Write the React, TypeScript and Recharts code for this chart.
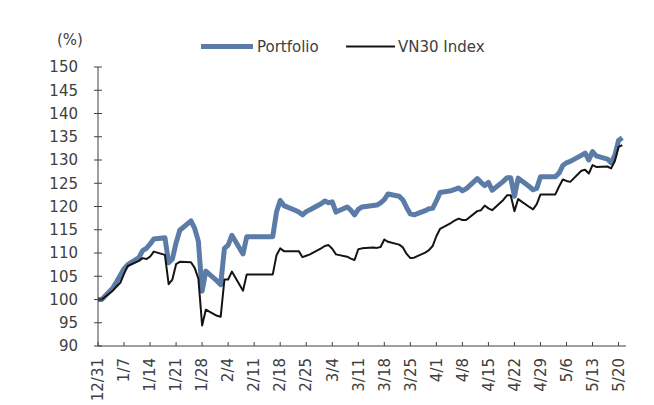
import { Line, LineChart, XAxis, YAxis } from "recharts";

// days counted from 12/31 (weekdays only, holidays carry the previous close)
const tradingDays = [
  0, 1, 4, 5, 6, 7, 8, 11, 12, 13, 14, 15, 18, 19, 20, 21, 22, 25, 26, 27, 28, 29,
  32, 33, 34, 35, 36, 39, 40, 41, 42, 43, 46, 47, 48, 49, 50, 53, 54, 55, 56, 57,
  60, 61, 62, 63, 64, 67, 68, 69, 70, 71, 74, 75, 76, 77, 78, 81, 82, 83, 84, 85,
  88, 89, 90, 91, 92, 95, 96, 97, 98, 99, 102, 103, 104, 105, 106, 109, 110, 111, 112, 113,
  116, 117, 118, 119, 120, 123, 124, 125, 126, 127, 130, 131, 132, 133, 134, 137, 138, 139, 140, 141,
];

const portfolio = [
  100.0, 100.0, 102.5, 103.8, 105.2, 106.6, 107.5, 109.0, 110.5, 111.0, 111.9, 113.0, 113.3, 107.9, 108.7, 112.2, 114.9, 116.9, 115.3, 112.5, 101.8, 106.1,
  104.0, 103.2, 111.0, 111.7, 113.8, 109.8, 113.5, 113.5, 113.5, 113.5, 113.5, 113.5, 118.8, 121.3, 120.2, 119.2, 118.8, 118.2, 118.9, 119.3,
  120.6, 121.2, 120.8, 121.0, 118.8, 119.9, 119.2, 118.2, 119.4, 119.9, 120.2, 120.3, 120.8, 121.5, 122.7, 122.2, 121.4, 119.8, 118.4, 118.2,
  119.1, 119.5, 119.6, 121.2, 123.0, 123.4, 123.7, 124.0, 123.4, 123.8, 126.0, 125.2, 124.5, 125.2, 123.5, 125.4, 126.2, 126.2, 122.2, 126.1,
  124.3, 123.6, 123.9, 126.4, 126.4, 126.4, 127.2, 128.8, 129.4, 129.7, 131.0, 131.5, 130.0, 131.8, 130.9, 130.2, 129.4, 131.0, 134.2, 134.8,
];

const vn30 = [
  100.0, 100.0, 101.9, 102.8, 103.6, 105.5, 107.2, 108.3, 108.9, 108.7, 109.2, 110.3, 109.6, 103.3, 104.3, 107.6, 108.1, 108.0, 106.8, 104.5, 94.4, 97.8,
  96.5, 96.3, 104.3, 104.3, 106.0, 101.9, 105.4, 105.4, 105.4, 105.4, 105.4, 105.4, 109.5, 111.0, 110.4, 110.4, 110.4, 109.1, 109.4, 109.7,
  111.0, 111.5, 111.7, 110.9, 109.7, 109.2, 108.8, 108.5, 110.8, 111.0, 111.2, 111.1, 111.3, 112.9, 112.4, 111.8, 111.2, 109.8, 108.9, 109.0,
  110.1, 110.6, 111.5, 113.6, 115.2, 116.5, 117.0, 117.4, 117.1, 117.1, 119.0, 119.2, 120.2, 119.6, 119.2, 121.4, 122.4, 122.4, 119.0, 121.6,
  119.9, 119.4, 120.5, 122.6, 122.6, 122.6, 124.3, 125.8, 125.5, 125.3, 127.7, 127.9, 127.1, 128.9, 128.5, 128.6, 128.2, 129.8, 132.8, 133.2,
];

const tickDays = [0, 7, 14, 21, 28, 35, 42, 49, 56, 63, 70, 77, 84, 91, 98, 105, 112, 119, 126, 133, 140];
const tickLabels = [
  "12/31", "1/7", "1/14", "1/21", "1/28", "2/4", "2/11", "2/18", "2/25", "3/4", "3/11",
  "3/18", "3/25", "4/1", "4/8", "4/15", "4/22", "4/29", "5/6", "5/13", "5/20",
];
const yTicks = [90, 95, 100, 105, 110, 115, 120, 125, 130, 135, 140, 145, 150];

const BLUE = "#5b7ca6";
const BLACK = "#141414";
const AXIS = "#404040";
const TEXT = "#404040";
const FONT = "'DejaVu Sans', Verdana, sans-serif";

const data = tradingDays.map((day, i) => ({ day, portfolio: portfolio[i], vn30: vn30[i] }));

function XTick({ x, y, payload }: any) {
  const label = tickLabels[tickDays.indexOf(payload.value)];
  const ty = y + 12;
  return (
    <g>
      <line x1={x} x2={x} y1={y} y2={y - 4} stroke={AXIS} />
      <text
        x={x}
        y={ty}
        transform={`rotate(-90 ${x} ${ty})`}
        textAnchor="end"
        dy="0.35em"
        fontSize={15}
        fontFamily={FONT}
        fill={TEXT}
      >
        {label}
      </text>
    </g>
  );
}

function YTick({ x, y, payload }: any) {
  return (
    <g>
      <line x1={x - 4} x2={x + 4} y1={y} y2={y} stroke={AXIS} />
      <text x={x - 20} y={y} dy="0.35em" textAnchor="end" fontSize={15} fontFamily={FONT} fill={TEXT}>
        {payload.value}
      </text>
    </g>
  );
}

export default function App() {
  return (
    <div style={{ position: "absolute", left: 0, top: 0, width: 654, height: 405, background: "#fff" }}>
      <LineChart width={654} height={405} data={data} margin={{ top: 67, right: 28, bottom: 0, left: 0 }}>
        <XAxis
          dataKey="day"
          type="number"
          domain={[0, 142]}
          ticks={tickDays}
          interval={0}
          height={59}
          tickSize={0}
          tickMargin={0}
          stroke={AXIS}
          tick={<XTick />}
        />
        <YAxis
          type="number"
          domain={[90, 150]}
          ticks={yTicks}
          interval={0}
          width={98}
          tickSize={0}
          tickMargin={0}
          stroke={AXIS}
          tick={<YTick />}
        />
        <Line
          type="linear"
          dataKey="portfolio"
          name="Portfolio"
          stroke={BLUE}
          strokeWidth={5}
          strokeLinejoin="round"
          dot={false}
          isAnimationActive={false}
        />
        <Line
          type="linear"
          dataKey="vn30"
          name="VN30 Index"
          stroke={BLACK}
          strokeWidth={2}
          strokeLinejoin="round"
          dot={false}
          isAnimationActive={false}
        />
      </LineChart>
      <svg width={654} height={60} style={{ position: "absolute", left: 0, top: 0 }}>
        <text x={57} y={40} dy="0.35em" fontSize={15} fontFamily={FONT} fill={TEXT}>
          (%)
        </text>
        <line x1={201} x2={253} y1={46.5} y2={46.5} stroke={BLUE} strokeWidth={5} />
        <text x={257} y={46.5} dy="0.35em" fontSize={15} fontFamily={FONT} fill={TEXT}>
          Portfolio
        </text>
        <line x1={346} x2={395} y1={46.5} y2={46.5} stroke={BLACK} strokeWidth={2} />
        <text x={398} y={46.5} dy="0.35em" fontSize={15} fontFamily={FONT} fill={TEXT}>
          VN30 Index
        </text>
      </svg>
    </div>
  );
}
